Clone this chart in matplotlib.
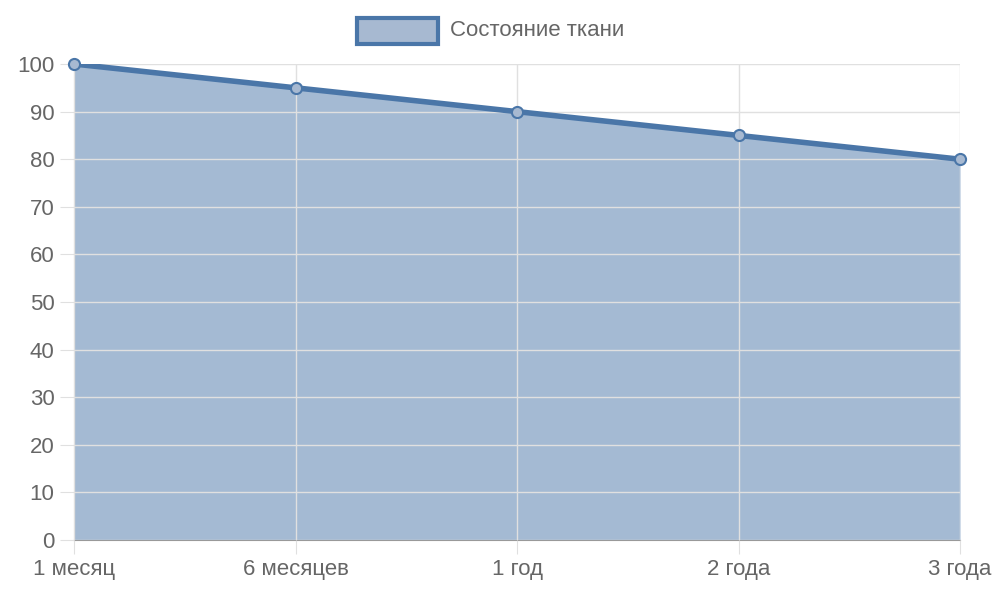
import matplotlib
matplotlib.use('Agg')
import matplotlib.pyplot as plt
from matplotlib.patches import Rectangle

labels = ['1 месяц', '6 месяцев', '1 год', '2 года', '3 года']
values = [100, 95, 90, 85, 80]
series_name = 'Состояние ткани'

line_color = '#4a76a8'
plt.rcParams['font.family'] = ['Liberation Sans', 'DejaVu Sans']

fig = plt.figure(figsize=(10, 6), dpi=100)
ax = fig.add_axes([0.074, 0.1, 0.886, 0.7933])

x = range(len(labels))
ax.fill_between(x, values, 0, color=line_color, alpha=0.5, lw=0, zorder=1)
ax.plot(x, values, color=line_color, lw=4, zorder=3)
ax.plot(x, values, 'o', ms=8, mfc='#a7b9d1', mec=line_color, mew=1.5, zorder=4, clip_on=False)

ax.set_xlim(0, len(labels) - 1)
ax.set_ylim(0, 100)
ax.set_xticks(list(x))
ax.set_xticklabels(labels)
ax.set_yticks(range(0, 101, 10))
ax.grid(True, color='#e0e0e0', lw=1, zorder=2)
ax.set_axisbelow(False)
for s in ['top', 'right']:
    ax.spines[s].set_visible(False)
for s in ['left', 'bottom']:
    ax.spines[s].set_color('#999999')
ax.tick_params(colors='#e0e0e0', labelcolor='#666666', labelsize=16, length=10, pad=4)

fig.patches.append(Rectangle((0.357, 1 - 44 / 600), 0.081, 26 / 600, transform=fig.transFigure,
                             facecolor='#a7b9d1', edgecolor=line_color, lw=3))
fig.text(0.450, 1 - 31 / 600, series_name, color='#666666', fontsize=16, va='center')

fig.savefig('out.png')
